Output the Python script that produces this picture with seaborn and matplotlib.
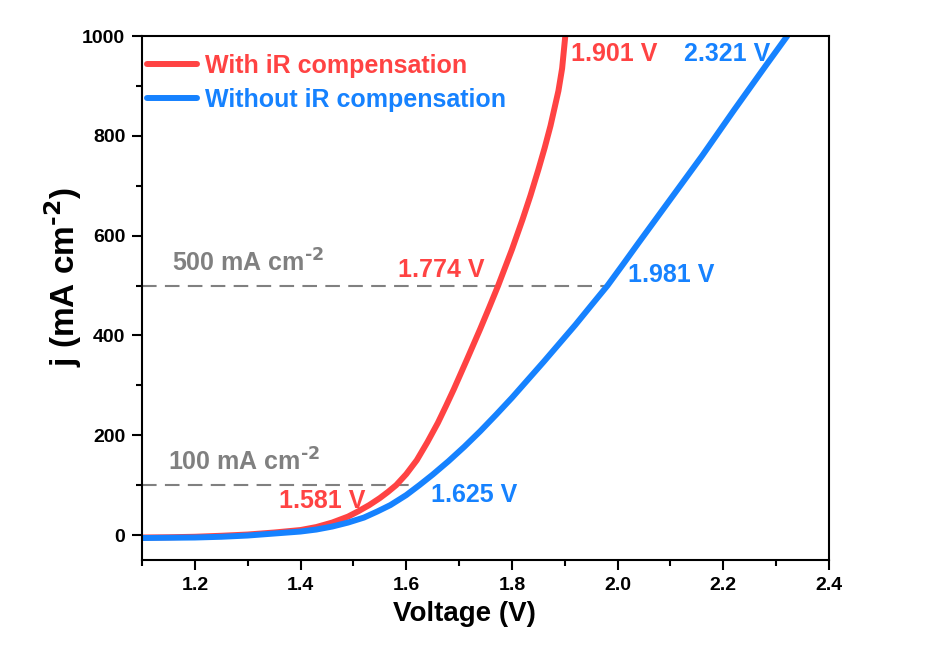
import numpy as np
import pandas as pd
import matplotlib
matplotlib.use("Agg")
import matplotlib.pyplot as plt
from matplotlib.ticker import MultipleLocator
import seaborn as sns

# Polarization curves (cell voltage vs. current density)
v_with_ir = [1.10, 1.15, 1.20, 1.25, 1.30, 1.35, 1.40, 1.43, 1.46, 1.49, 1.51,
             1.53, 1.55, 1.565, 1.581, 1.60, 1.62, 1.64, 1.66, 1.675, 1.69,
             1.715, 1.74, 1.757, 1.774, 1.80, 1.82, 1.835, 1.85, 1.862, 1.873,
             1.888, 1.895, 1.901]
j_with_ir = [-5, -4.5, -3.5, -1.5, 1, 5, 10, 16, 25, 37, 48,
             60, 74, 86, 100, 122, 150, 186, 225, 258, 292,
             352, 413, 456, 500, 572, 632, 680, 732, 776, 820,
             890, 935, 1000]

v_without_ir = [1.10, 1.15, 1.20, 1.25, 1.30, 1.35, 1.40, 1.43, 1.46, 1.49, 1.52,
                1.545, 1.57, 1.60, 1.625, 1.65, 1.68, 1.71, 1.74, 1.77, 1.80,
                1.83, 1.86, 1.89, 1.92, 1.95, 1.981, 2.01, 2.04, 2.10, 2.16,
                2.22, 2.28, 2.321]
j_without_ir = [-6, -5.5, -5, -3.5, -1, 3, 7, 11, 17, 25, 35,
                47, 60, 80, 100, 121, 148, 177, 208, 241, 275,
                311, 347, 384, 421, 460, 500, 542, 586, 673, 760,
                851, 940, 1000]

series_names = ["With iR compensation", "Without iR compensation"]
series_colors = ["#FF4343", "#1682FF"]

# Benchmark current densities and the voltages needed to reach them
ref_currents = [100, 500]
ref_labels = [r"100 mA cm$^{\text{-2}}$", r"500 mA cm$^{\text{-2}}$"]
v_at_100 = [1.581, 1.625]
v_at_500 = [1.774, 1.981]
v_at_1000 = [1.901, 2.321]

df = pd.concat([
    pd.DataFrame({"V": v_with_ir, "j": j_with_ir, "series": series_names[0]}),
    pd.DataFrame({"V": v_without_ir, "j": j_without_ir, "series": series_names[1]}),
])

sns.set_theme(style="ticks")
plt.rcParams["font.family"] = ["Liberation Sans", "DejaVu Sans"]
plt.rcParams["font.weight"] = "bold"
plt.rcParams["mathtext.default"] = "bf"
plt.rcParams["text.color"] = "black"
plt.rcParams["axes.labelcolor"] = "black"
plt.rcParams["xtick.color"] = "black"
plt.rcParams["ytick.color"] = "black"

fig = plt.figure(figsize=(9.5, 6.63), dpi=100)
ax = fig.add_axes([0.1495, 0.1554, 0.7231, 0.7903])

sns.lineplot(data=df, x="V", y="j", hue="series", palette=series_colors,
             hue_order=series_names, estimator=None, sort=False,
             linewidth=4.3, legend=False, ax=ax)

gray = "#808080"
ax.hlines(ref_currents, 1.1, [v_at_100[1], v_at_500[1]], colors=gray,
          linestyles=(0, (7, 4)), linewidth=1.5, zorder=1)

ax.set_xlim(1.1, 2.4)
ax.set_ylim(-50, 1000)
ax.xaxis.set_minor_locator(MultipleLocator(0.1))
ax.yaxis.set_major_locator(MultipleLocator(200))
ax.yaxis.set_minor_locator(MultipleLocator(100))
ax.set_xticks([1.2, 1.4, 1.6, 1.8, 2.0, 2.2, 2.4])
ax.set_xticklabels(["1.2", "1.4", "1.6", "1.8", "2.0", "2.2", "2.4"])

ax.tick_params(which="major", direction="out", length=7, width=1.5,
               labelsize=14, top=False, right=False, pad=5)
ax.tick_params(which="minor", direction="out", length=4, width=1.5,
               top=False, right=False)
for lab in ax.get_xticklabels() + ax.get_yticklabels():
    lab.set_fontweight("bold")
for sp in ax.spines.values():
    sp.set_visible(True)
    sp.set_linewidth(1.5)
    sp.set_color("black")

ax.set_xlabel("Voltage (V)", fontsize=20, fontweight="bold")
ax.xaxis.set_label_coords(0.470, -0.078)
ax.set_ylabel(r"j (mA cm$^{\text{-2}}$)", fontsize=24, fontweight="bold")
ax.yaxis.set_label_coords(-0.085, 0.54)

# Reference-level captions
ax.text(1.150, 130, ref_labels[0], color=gray, fontsize=18, fontweight="bold",
        ha="left", va="baseline")
ax.text(1.157, 528, ref_labels[1], color=gray, fontsize=18, fontweight="bold",
        ha="left", va="baseline")

# Voltage annotations
txt = dict(fontsize=18, fontweight="bold", ha="left", va="baseline")
ax.text(1.359, 54, f"{v_at_100[0]:.3f} V", color=series_colors[0], **txt)
ax.text(1.647, 66, f"{v_at_100[1]:.3f} V", color=series_colors[1], **txt)
ax.text(1.585, 517, f"{v_at_500[0]:.3f} V", color=series_colors[0], **txt)
ax.text(2.019, 507, f"{v_at_500[1]:.3f} V", color=series_colors[1], **txt)
ax.text(1.9125, 949, f"{v_at_1000[0]:.3f} V", color=series_colors[0], **txt)
ax.text(2.125, 949, f"{v_at_1000[1]:.3f} V", color=series_colors[1], **txt)

leg = ax.legend(handles=ax.lines[:2], labels=series_names, loc="upper left",
                bbox_to_anchor=(0.0, 0.976), frameon=False,
                prop={"size": 18, "weight": "bold"}, handlelength=2.0,
                handletextpad=0.3, labelspacing=0.42, borderaxespad=0,
                borderpad=0.2)
for t, c in zip(leg.get_texts(), series_colors):
    t.set_color(c)

fig.savefig("out.png", dpi=100, facecolor="white")
